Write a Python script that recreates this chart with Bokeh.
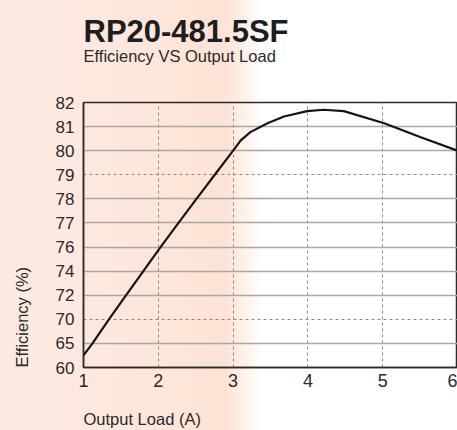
import numpy as np
from bokeh.plotting import figure
from bokeh.models import Range1d, FixedTicker, Grid, Title
from bokeh.embed import file_html
from bokeh.resources import INLINE

# ---- data ----
title_text = "RP20-481.5SF"
subtitle_text = "Efficiency VS Output Load"
x_label = "Output Load (A)"
y_label = "Efficiency (%)"
x_ticks = [1, 2, 3, 4, 5, 6]
y_tick_labels = [60, 65, 70, 72, 74, 76, 77, 78, 79, 80, 81, 82]
dashed_y_levels = [70, 79]
load = [1.0, 1.12, 1.34, 1.57, 1.80, 2.03, 2.27, 2.51, 2.755, 3.0, 3.1, 3.23,
        3.46, 3.68, 3.99, 4.21, 4.48, 5.02, 5.5, 6.0]
efficiency = [62.5, 65, 70, 72, 74, 76, 77, 78, 79, 80.0, 80.42, 80.77,
              81.14, 81.42, 81.64, 81.70, 81.64, 81.14, 80.57, 80.0]

FONT = "Liberation Sans"
DARK = "#2b2b2b"
TXT = "#2a2a2a"

# the y axis of the reference is not linear: its labelled levels are evenly spaced
level_pos = np.arange(len(y_tick_labels))
disp = np.interp(efficiency, y_tick_labels, level_pos)

p = figure(width=457, height=430, output_backend="svg", toolbar_location=None,
           x_range=Range1d(1, 6), y_range=Range1d(0, len(y_tick_labels) - 1),
           min_border_left=83, min_border_right=0, min_border_top=102,
           min_border_bottom=63)
p.styles = {"background": "linear-gradient(to right, #fcebe3 0px, #fde7dc 130px, #fde3d5 225px, #fff5f0 250px, #ffffff 262px)"}
p.background_fill_alpha = 0
p.border_fill_alpha = 0
p.outline_line_color = DARK
p.outline_line_width = 1.5

# axes
for ax in (p.xaxis[0], p.yaxis[0]):
    ax.major_tick_in = 0
    ax.major_tick_out = 0
    ax.minor_tick_in = 0
    ax.minor_tick_out = 0
    ax.axis_line_color = DARK
    ax.axis_line_width = 1.5
    ax.major_label_text_font = FONT
    ax.major_label_text_color = TXT

p.xaxis.ticker = FixedTicker(ticks=x_ticks)
p.xaxis.major_label_text_font_size = "18px"
p.xaxis.major_label_standoff = 6

p.yaxis.ticker = FixedTicker(ticks=list(level_pos))
p.yaxis.major_label_overrides = {int(i): str(v) for i, v in zip(level_pos, y_tick_labels)}
p.yaxis.major_label_text_font_size = "17px"
p.yaxis.major_label_standoff = 9


def spacer(standoff):
    return Title(text=" ", text_font=FONT, text_font_size="16.5px", standoff=standoff)


# above: (frame outward) spacer, subtitle, title
p.add_layout(spacer(18), "above")
p.add_layout(Title(text=subtitle_text, text_font=FONT, text_font_style="normal",
                   text_font_size="16.5px", text_color=TXT, align="left", standoff=0), "above")
p.title.text = title_text
p.title.text_font = FONT
p.title.text_font_style = "bold"
p.title.text_font_size = "31px"
p.title.text_color = "#1e1e1e"
p.title.align = "left"
p.title.standoff = -8

# below: axis, spacer, x label
p.add_layout(spacer(8), "below")
p.add_layout(Title(text=x_label, text_font=FONT, text_font_style="normal",
                   text_font_size="16.5px", text_color=TXT, align="left", standoff=-20), "below")

# left: axis, spacer, y label (aligned to the bottom of the frame)
p.add_layout(spacer(12), "left")
p.add_layout(Title(text=y_label, text_font=FONT, text_font_style="normal",
                   text_font_size="16.5px", text_color=TXT, align="left", standoff=-20), "left")

# grids
solid_pos = [i for i, v in zip(level_pos, y_tick_labels)
             if v not in dashed_y_levels and 0 < i < len(y_tick_labels) - 1]
dash_pos = [i for i, v in zip(level_pos, y_tick_labels) if v in dashed_y_levels]
p.ygrid.ticker = FixedTicker(ticks=solid_pos)
p.ygrid.grid_line_color = "#a8a8a8"
p.ygrid.grid_line_width = 1.4
p.xgrid.ticker = FixedTicker(ticks=x_ticks[1:-1])
p.xgrid.grid_line_color = "#8a8a8a"
p.xgrid.grid_line_dash = "3 3"
p.xgrid.grid_line_width = 1
dgrid = Grid(dimension=1, ticker=FixedTicker(ticks=dash_pos),
             grid_line_color="#8a8a8a", grid_line_dash="3 3", grid_line_width=1)
p.add_layout(dgrid)

p.line(load, disp, line_color="#151515", line_width=2.2)

open("out.html", "w").write(file_html(p, INLINE))
